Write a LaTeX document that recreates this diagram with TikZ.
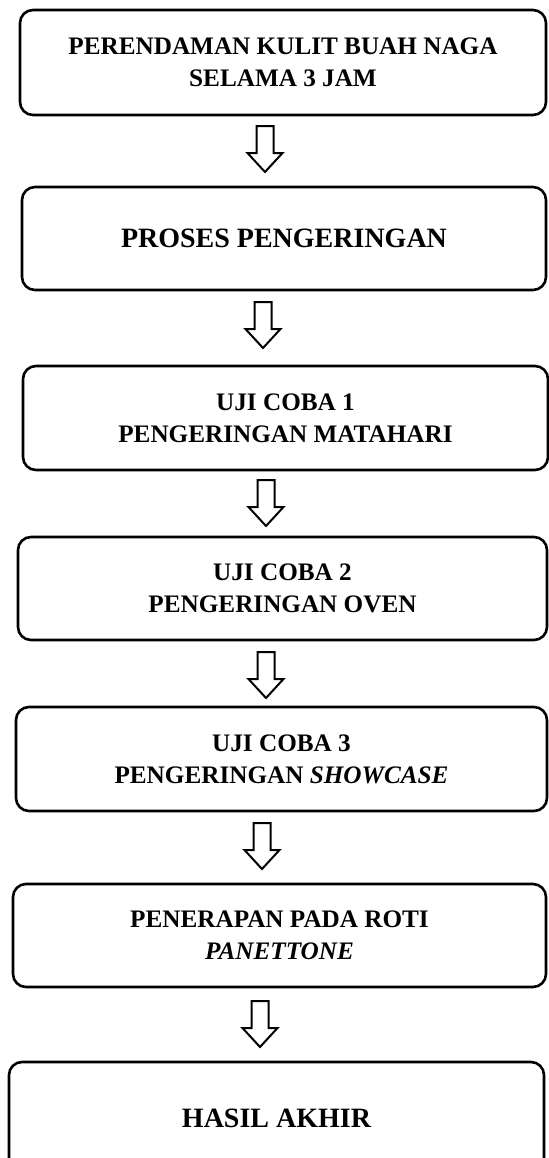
\documentclass[tikz,border=0pt]{standalone}
\usepackage{fontspec}
\setmainfont{Liberation Serif}
\usepackage{tikz}

\begin{document}
\begin{tikzpicture}[x=0.5pt,y=-0.5pt,
    kotak/.style={draw, line width=1.3pt, rounded corners=6.5pt, align=center,
      inner sep=0pt, font=\fontsize{12.6}{16}\selectfont\bfseries},
    besar/.style={font=\fontsize{14}{17}\selectfont\bfseries},
    panah/.pic={
      \draw[line width=1pt] (-8.5,0) -- (-8.5,27) -- (-17.5,27) -- (0,46)
        -- (17.5,27) -- (8.5,27) -- (8.5,0) -- cycle;
    }]
  \useasboundingbox (0,0) rectangle (548,1158);
  % Boxes
  \node[kotak, minimum width=263pt, minimum height=52.5pt] (rendam) at (283,62.5)
    {PERENDAMAN KULIT BUAH NAGA\\SELAMA 3 JAM};
  \node[kotak, besar, minimum width=262pt, minimum height=51.5pt] (kering) at (284,238.5)
    {PROSES PENGERINGAN};
  \node[kotak, minimum width=262.5pt, minimum height=52pt] (uji1) at (285.5,418)
    {UJI COBA 1\\PENGERINGAN MATAHARI};
  \node[kotak, minimum width=264.5pt, minimum height=51.5pt] (uji2) at (282.5,588.5)
    {UJI COBA 2\\PENGERINGAN OVEN};
  \node[kotak, minimum width=265.5pt, minimum height=52pt] (uji3) at (281.5,759)
    {UJI COBA 3\\PENGERINGAN \textit{SHOWCASE}};
  \node[kotak, minimum width=266.5pt, minimum height=51.5pt] (roti) at (279.5,935.5)
    {PENERAPAN PADA ROTI\\\textit{PANETTONE}};
  % last box runs past the bottom edge
  \node[kotak, besar, minimum width=267.5pt, minimum height=56pt] (hasil) at (276.5,1118)
    {HASIL AKHIR};
  % Arrows
  \pic (p1) at (265,126) {panah};
  \pic (p2) at (263,302) {panah};
  \pic (p3) at (266,480) {panah};
  \pic (p4) at (266,652) {panah};
  \pic (p5) at (262,823) {panah};
  \pic (p6) at (260,1001) {panah};
\end{tikzpicture}
\end{document}
